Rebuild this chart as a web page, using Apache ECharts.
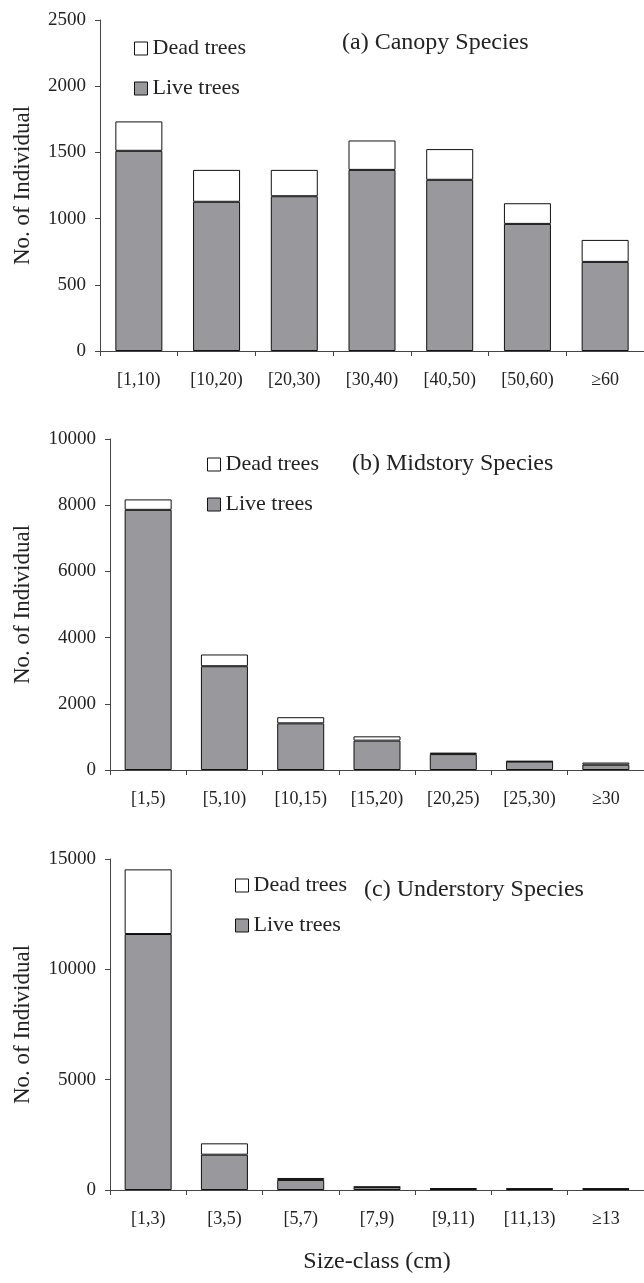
<!DOCTYPE html>
<html>
<head>
<meta charset="utf-8">
<script src="https://cdn.jsdelivr.net/npm/echarts@6/dist/echarts.min.js"></script>
<style>
html,body{margin:0;padding:0;background:#fff;}
#chart{width:644px;height:1283px;}
</style>
</head>
<body>
<div id="chart"></div>
<script>
// ---- data ----
var catsA = ['[1,10)', '[10,20)', '[20,30)', '[30,40)', '[40,50)', '[50,60)', '≥60'];
var liveA = [1512, 1127, 1169, 1368, 1293, 960, 673];
var deadA = [222, 241, 199, 222, 232, 156, 166];

var catsB = ['[1,5)', '[5,10)', '[10,15)', '[15,20)', '[20,25)', '[25,30)', '≥30'];
var liveB = [7860, 3135, 1410, 887, 480, 255, 160];
var deadB = [315, 355, 185, 130, 45, 15, 65];

var catsC = ['[1,3)', '[3,5)', '[5,7)', '[7,9)', '[9,11)', '[11,13)', '≥13'];
var liveC = [11600, 1600, 455, 130, 50, 45, 45];
var deadC = [2930, 515, 90, 20, 25, 25, 25];

var yTicksA = {min: 0, max: 2500, interval: 500};
var yTicksB = {min: 0, max: 10000, interval: 2000};
var yTicksC = {min: 0, max: 15000, interval: 5000};

var titles = ['(a) Canopy Species', '(b) Midstory Species', '(c) Understory Species'];
var yName = 'No. of Individual';
var xName = 'Size-class (cm)';

// ---- styling ----
var FONT = '"Liberation Serif", "Times New Roman", serif';
var GREY = '#99989d';
var TXT = '#222';
var AX = '#444';

function xAxis(idx, cats, withName) {
  var a = {
    type: 'category', gridIndex: idx, data: cats,
    axisLine: {lineStyle: {color: AX, width: 1}},
    axisTick: {show: true, length: 5, lineStyle: {color: AX}},
    axisLabel: {color: TXT, fontFamily: FONT, fontSize: 18, margin: 20}
  };
  if (withName) {
    a.name = xName; a.nameLocation = 'middle'; a.nameGap = 60;
    a.nameTextStyle = {color: TXT, fontFamily: FONT, fontSize: 24};
  }
  return a;
}
function yAxis(idx, t, gap) {
  return {
    type: 'value', gridIndex: idx, min: t.min, max: t.max, interval: t.interval,
    name: yName, nameLocation: 'middle', nameGap: gap, nameRotate: 90,
    nameTextStyle: {color: TXT, fontFamily: FONT, fontSize: 23},
    splitLine: {show: false},
    axisLine: {show: true, lineStyle: {color: AX, width: 1}},
    axisTick: {show: true, length: 5, lineStyle: {color: AX}},
    axisLabel: {color: TXT, fontFamily: FONT, fontSize: 19, margin: 14,
                formatter: function (v) { return String(v); }}
  };
}
function bars(idx, live, dead) {
  var st = 's' + idx;
  return [
    {name: 'Live trees', type: 'bar', stack: st, xAxisIndex: idx, yAxisIndex: idx,
     data: live, barWidth: 47,
     itemStyle: {color: GREY, borderColor: '#111', borderWidth: 1}},
    {name: 'Dead trees', type: 'bar', stack: st, xAxisIndex: idx, yAxisIndex: idx,
     data: dead, barWidth: 47,
     itemStyle: {color: '#fff', borderColor: '#111', borderWidth: 1}}
  ];
}
function legend(left, top) {
  return {
    data: [{name: 'Dead trees', itemStyle: {color: '#fff', borderColor: '#111', borderWidth: 1}},
           {name: 'Live trees', itemStyle: {color: GREY, borderColor: '#111', borderWidth: 1}}],
    orient: 'vertical', left: left, top: top, padding: 0,
    itemWidth: 13, itemHeight: 13, itemGap: 17, itemTextGap: 9,
    icon: 'rect', selectedMode: false,
    textStyle: {color: TXT, fontFamily: FONT, fontSize: 22, lineHeight: 23}
  };
}
function title(text, left, top) {
  return {text: text, left: left, top: top, padding: 0,
          textStyle: {color: TXT, fontFamily: FONT, fontSize: 24, fontWeight: 'normal', lineHeight: 26}};
}

var chart = echarts.init(document.getElementById('chart'), null, {renderer: 'canvas'});
chart.setOption({
  backgroundColor: '#fff',
  animation: false,
  title: [title(titles[0], 342, 30), title(titles[1], 352, 451), title(titles[2], 364, 877)],
  legend: [legend(134, 37), legend(207, 453), legend(235, 874)],
  grid: [
    {left: 100, right: -5, top: 20, height: 331},
    {left: 110, right: -5, top: 439, height: 331},
    {left: 110, right: -5, top: 859, height: 331}
  ],
  xAxis: [xAxis(0, catsA, false), xAxis(1, catsB, false), xAxis(2, catsC, true)],
  yAxis: [yAxis(0, yTicksA, 66), yAxis(1, yTicksB, 76), yAxis(2, yTicksC, 76)],
  series: [].concat(bars(0, liveA, deadA), bars(1, liveB, deadB), bars(2, liveC, deadC))
});
</script>
</body>
</html>
